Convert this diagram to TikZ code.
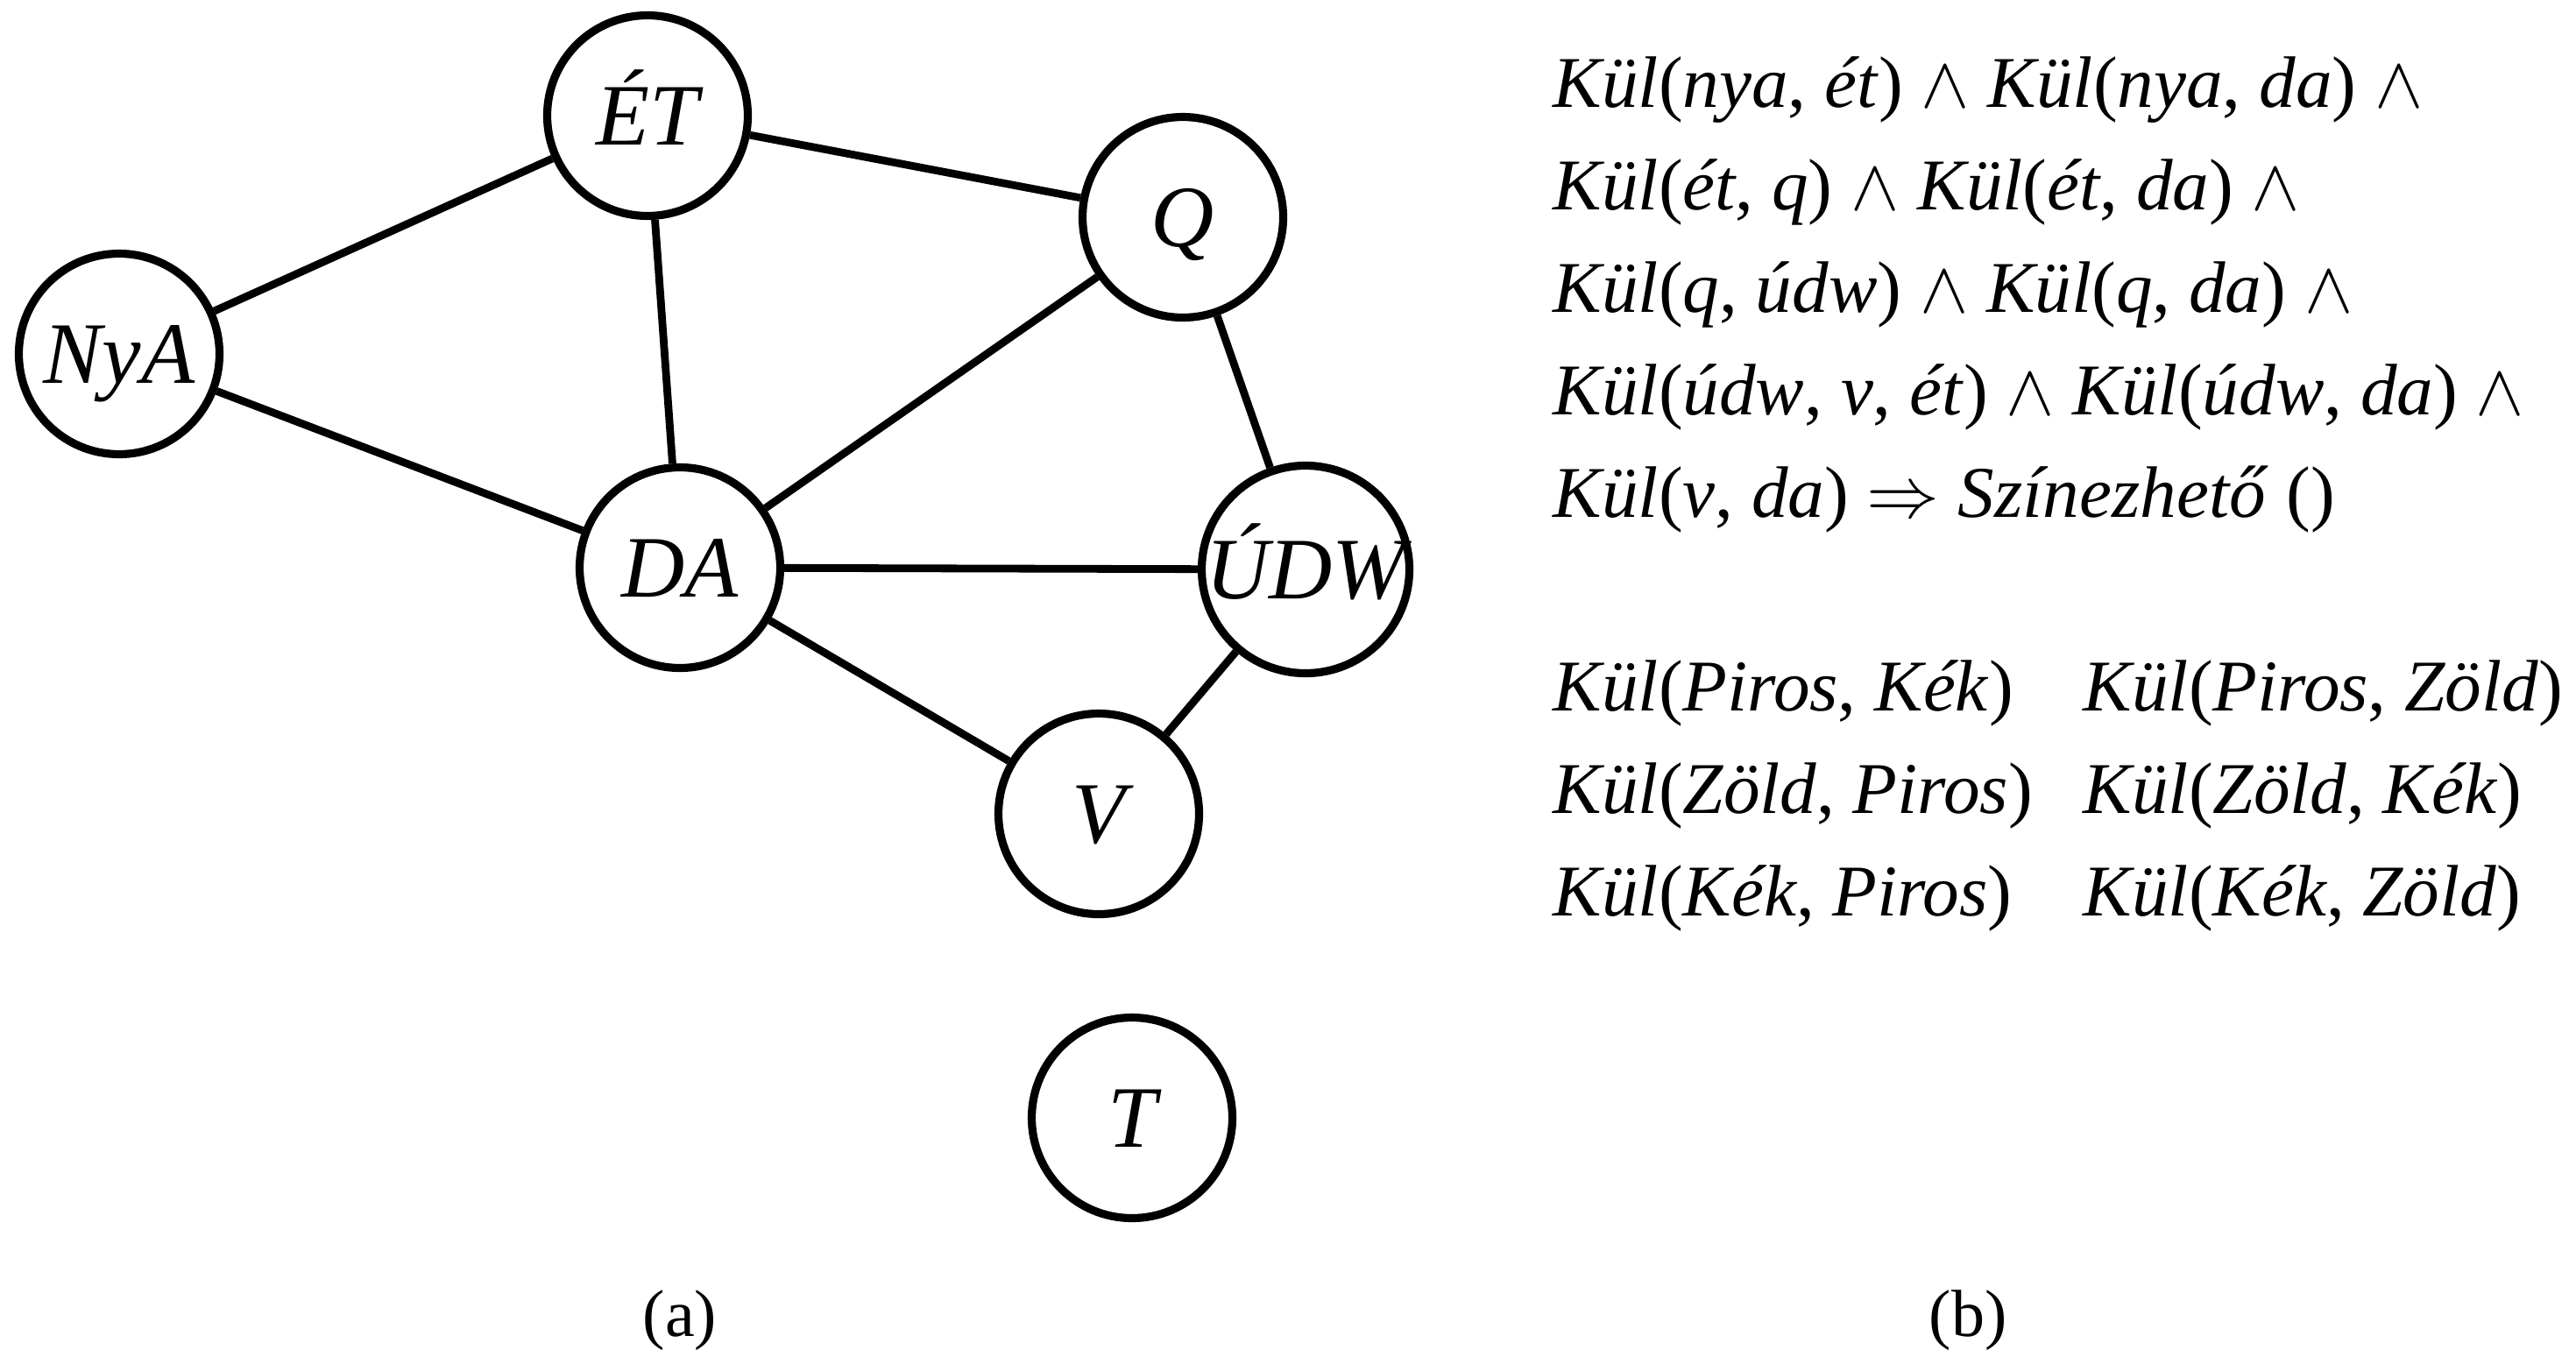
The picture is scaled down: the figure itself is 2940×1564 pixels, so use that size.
\documentclass[tikz,border=0pt]{standalone}
\usepackage{fontspec}
\setmainfont{Liberation Serif}
\newcommand\myl{\textup{(}}
\newcommand\myr{\textup{)}}
\newcommand\myc{\textup{,} }
\begin{document}
\begin{tikzpicture}[x=0.25pt,y=-0.25pt,
  st/.style={circle,draw,line width=2.3pt,minimum size=57.25pt,inner sep=0pt,fill=white,
    text height=16.5pt,text depth=0pt,font=\fontsize{25}{30}\selectfont\itshape},
  ed/.style={line width=2.2pt},
  fm/.style={anchor=base west,inner sep=0pt,font=\fontsize{20.8}{25}\selectfont\itshape},
  lab/.style={anchor=base,inner sep=0pt,font=\fontsize{19}{23}\selectfont}]
\useasboundingbox (0,0) rectangle (2940,1564);
% graph nodes
\node[st] (nya) at (136,404) {NyA};
\node[st] (et) at (739,132) {ÉT};
\node[st] (q) at (1350,248) {Q};
\node[st] (da) at (776,648) {DA};
\node[st] (udw) at (1490,650) {ÚDW};
\node[st] (v) at (1254,929) {V};
\node[st] (t) at (1292,1276) {T};
% edges
\draw[ed] (nya) -- (et);
\draw[ed] (nya) -- (da);
\draw[ed] (et) -- (q);
\draw[ed] (et) -- (da);
\draw[ed] (q) -- (da);
\draw[ed] (q) -- (udw);
\draw[ed] (da) -- (udw);
\draw[ed] (da) -- (v);
\draw[ed] (udw) -- (v);
% formulas
\node[fm] (f1) at (1772,122) {Kül\myl nya\myc ét\myr{} $\wedge$ Kül\myl nya\myc da\myr{} $\wedge$};
\node[fm] (f2) at (1772,239) {Kül\myl ét\myc q\myr{} $\wedge$ Kül\myl ét\myc da\myr{} $\wedge$};
\node[fm] (f3) at (1772,356) {Kül\myl q\myc údw\myr{} $\wedge$ Kül\myl q\myc da\myr{} $\wedge$};
\node[fm] (f4) at (1772,473) {Kül\myl údw\myc v\myc ét\myr{} $\wedge$ Kül\myl údw\myc da\myr{} $\wedge$};
\node[fm] (f5) at (1772,590) {Kül\myl v\myc da\myr{} $\Rightarrow$ Színezhető \myl\myr};
\node[fm] (g1) at (1772,811) {Kül\myl Piros\myc Kék\myr};
\node[fm] (g2) at (2377,811) {Kül\myl Piros\myc Zöld\myr};
\node[fm] (g3) at (1772,928) {Kül\myl Zöld\myc Piros\myr};
\node[fm] (g4) at (2377,928) {Kül\myl Zöld\myc Kék\myr};
\node[fm] (g5) at (1772,1045) {Kül\myl Kék\myc Piros\myr};
\node[fm] (g6) at (2377,1045) {Kül\myl Kék\myc Zöld\myr};
% captions
\node[lab] (ca) at (776,1525) {(a)};
\node[lab] (cb) at (2246,1525) {(b)};
\end{tikzpicture}
\end{document}
